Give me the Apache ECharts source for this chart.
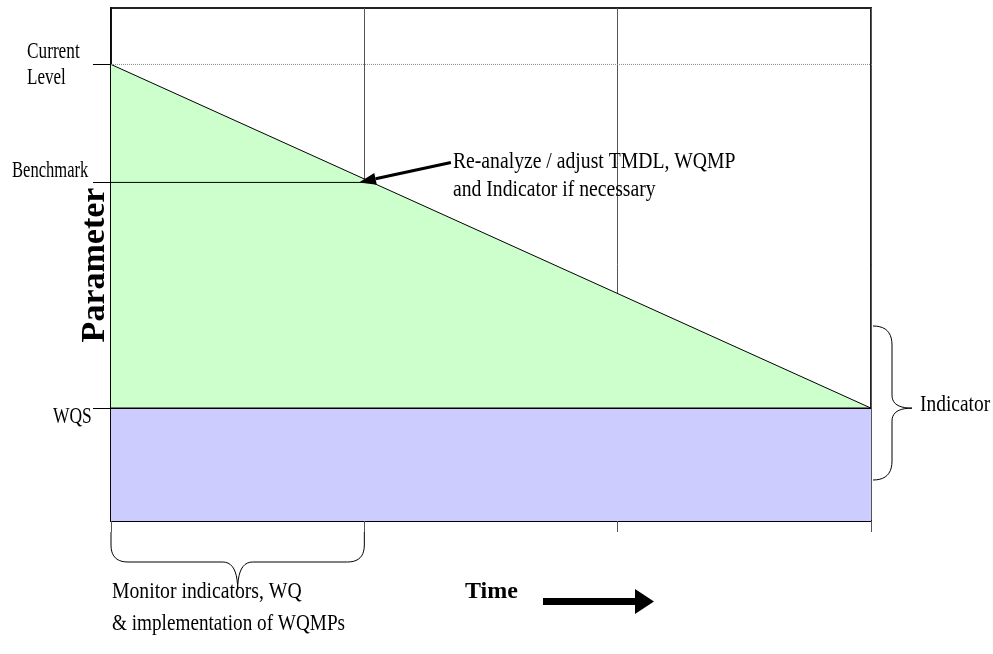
<!DOCTYPE html>
<html>
<head>
<meta charset="utf-8">
<script src="https://cdn.jsdelivr.net/npm/echarts@6/dist/echarts.min.js"></script>
<style>
  html, body { margin: 0; padding: 0; background: #fff; }
  #chart { width: 993px; height: 654px; }
</style>
</head>
<body>
<div id="chart"></div>
<script>
// time axis: 3 equal periods
const timeTicks = [0, 1, 2, 3]
// levels on the parameter axis (0 = bottom, 100 = top)
const levelNames = ['Current Level', 'Benchmark', 'WQS']
const levelValues = [89, 66, 22]
// trend from current level down to the standard
const trendX = [0, 3]
const trendY = [89, 22]
// benchmark line runs until it meets the trend
const benchmarkX = [0, 1.03]
// dotted current-level line runs a little past the plot
const currentLineX = [0, 3.04]
const wqsX = [0, 3]

const FONT = '"Liberation Serif", "Times New Roman", serif'

let dom = document.getElementById('chart')
let chart = echarts.init(dom)

function pairs(xs, y) {
  return xs.map((x, i) => [x, Array.isArray(y) ? y[i] : y])
}

let option = {
  animation: false,
  grid: {
    left: 111, top: 8, right: 122, bottom: 133,
    show: true,
    borderColor: '#222',
    borderWidth: 2,
    backgroundColor: 'transparent'
  },
  xAxis: {
    type: 'value',
    min: timeTicks[0],
    max: timeTicks[timeTicks.length - 1],
    interval: 1,
    axisLine: { lineStyle: { color: '#000', width: 2 } },
    axisTick: { show: true, length: 11, lineStyle: { color: '#555', width: 1 } },
    axisLabel: { show: false },
    splitLine: { show: true, lineStyle: { color: '#555', width: 1 } }
  },
  yAxis: {
    type: 'value',
    min: 0,
    max: 100,
    axisLine: { show: true, lineStyle: { color: '#000', width: 1.5 } },
    axisTick: { show: true, customValues: levelValues, length: 18, lineStyle: { color: '#000', width: 1 } },
    axisLabel: { show: false },
    splitLine: { show: false }
  },
  series: [
    {
      name: 'trend',
      type: 'line',
      data: pairs(trendX, trendY),
      symbol: 'none',
      lineStyle: { color: '#000', width: 1 },
      areaStyle: { color: '#ccffcc', opacity: 1 },
      z: 2
    },
    {
      name: levelNames[2],
      type: 'line',
      data: pairs(wqsX, levelValues[2]),
      symbol: 'none',
      lineStyle: { color: '#000', width: 1.5 },
      areaStyle: { color: '#ccccff', opacity: 1 },
      z: 3
    },
    {
      name: levelNames[1],
      type: 'line',
      data: pairs(benchmarkX, levelValues[1]),
      symbol: 'none',
      lineStyle: { color: '#000', width: 1 },
      z: 4
    },
    {
      name: levelNames[0],
      type: 'line',
      data: pairs(currentLineX, levelValues[0]),
      symbol: 'none',
      clip: false,
      lineStyle: { color: '#888', width: 1, type: [1, 1] },
      z: 4
    }
  ]
}
chart.setOption(option)

function label(text, x, y, size, sx, opts) {
  opts = opts || {}
  return {
    type: 'text',
    x: x, y: y,
    scaleX: sx,
    rotation: opts.rotation || 0,
    z: 10,
    style: {
      text: text,
      font: (opts.bold ? 'bold ' : '') + size + 'px ' + FONT,
      fill: '#000',
      textAlign: opts.align || 'left',
      textVerticalAlign: 'middle'
    }
  }
}

// sampled quadratic curve, for the curly brackets
function quad(p0, c, p1) {
  let pts = []
  for (let i = 1; i <= 10; i++) {
    let t = i / 10
    pts.push([
      (1 - t) * (1 - t) * p0[0] + 2 * (1 - t) * t * c[0] + t * t * p1[0],
      (1 - t) * (1 - t) * p0[1] + 2 * (1 - t) * t * c[1] + t * t * p1[1]
    ])
  }
  return pts
}

function bracket(pts) {
  return {
    type: 'polyline', z: 10,
    shape: { points: pts },
    style: { stroke: '#000', lineWidth: 1, fill: null }
  }
}

let px = (x, y) => chart.convertToPixel({ gridIndex: 0 }, [x, y])

let cur = px(0, levelValues[0])
let bench = px(0, levelValues[1])
let wqs = px(0, levelValues[2])
let meet = px(benchmarkX[1], levelValues[1])
let wqsEnd = px(wqsX[1], levelValues[2])
let t0 = px(0, 0), t1 = px(1, 0)

// arrow towards the benchmark crossing
let tip = [meet[0] - 13, meet[1]]
let tail = [tip[0] + 92, tip[1] - 20]
let dx = tip[0] - tail[0], dy = tip[1] - tail[1]
let len = Math.sqrt(dx * dx + dy * dy)
let ux = dx / len, uy = dy / len
let base = [tip[0] - ux * 17, tip[1] - uy * 17]

// bottom bracket under the first period
let L = t0[0], R = t1[0], M = (t0[0] + t1[0]) / 2
let bottomPts = [[L, 532], [L, 545]]
  .concat(quad([L, 545], [L, 562], [L + 17, 562]))
  .concat([[M - 15, 562]])
  .concat(quad([M - 15, 562], [M, 562], [M, 590]))
  .concat(quad([M, 590], [M, 562], [M + 15, 562]))
  .concat([[R - 17, 562]])
  .concat(quad([R - 17, 562], [R, 562], [R, 545]))
  .concat([[R, 532]])

// right bracket for the indicator range
let ty = wqsEnd[1]
let rightPts = [[873, 326]]
  .concat(quad([873, 326], [892, 326], [892, 345]))
  .concat([[892, ty - 13]])
  .concat(quad([892, ty - 13], [892, ty], [912, ty]))
  .concat(quad([912, ty], [892, ty], [892, ty + 13]))
  .concat([[892, 461]])
  .concat(quad([892, 461], [892, 480], [873, 480]))

let graphics = [
  label('Current', 27, cur[1] - 12, 23, 0.75),
  label('Level', 27, cur[1] + 14, 23, 0.74),
  label('Benchmark', 12, bench[1] - 11, 23, 0.72),
  label('WQS', 53, wqs[1] + 9, 23, 0.76),
  label('Parameter', 95, 265, 34, 1, { bold: true, rotation: Math.PI / 2, align: 'center' }),
  label('Re-analyze / adjust TMDL, WQMP', tail[0] + 2, 162, 24, 0.82),
  label('and Indicator if necessary', tail[0] + 2, 190, 24, 0.82),
  label('Indicator', 920, wqsEnd[1] - 3, 24, 0.81),
  label('Monitor indicators, WQ', 112, 592, 24, 0.82),
  label('& implementation of WQMPs', 112, 624, 24, 0.8),
  label('Time', 465, 592, 24, 1, { bold: true }),
  {
    type: 'polyline', z: 10,
    shape: { points: [tail, base] },
    style: { stroke: '#000', lineWidth: 3, fill: null }
  },
  {
    type: 'polygon', z: 10,
    shape: { points: [tip, [base[0] - uy * 6, base[1] + ux * 6], [base[0] + uy * 6, base[1] - ux * 6]] },
    style: { fill: '#000' }
  },
  bracket(bottomPts),
  bracket(rightPts),
  // time arrow
  {
    type: 'rect', z: 10,
    shape: { x: 543, y: 598, width: 93, height: 7 },
    style: { fill: '#000' }
  },
  {
    type: 'polygon', z: 10,
    shape: { points: [[635, 589], [654, 601.5], [635, 614]] },
    style: { fill: '#000' }
  }
]

chart.setOption({ graphic: graphics })
</script>
</body>
</html>
